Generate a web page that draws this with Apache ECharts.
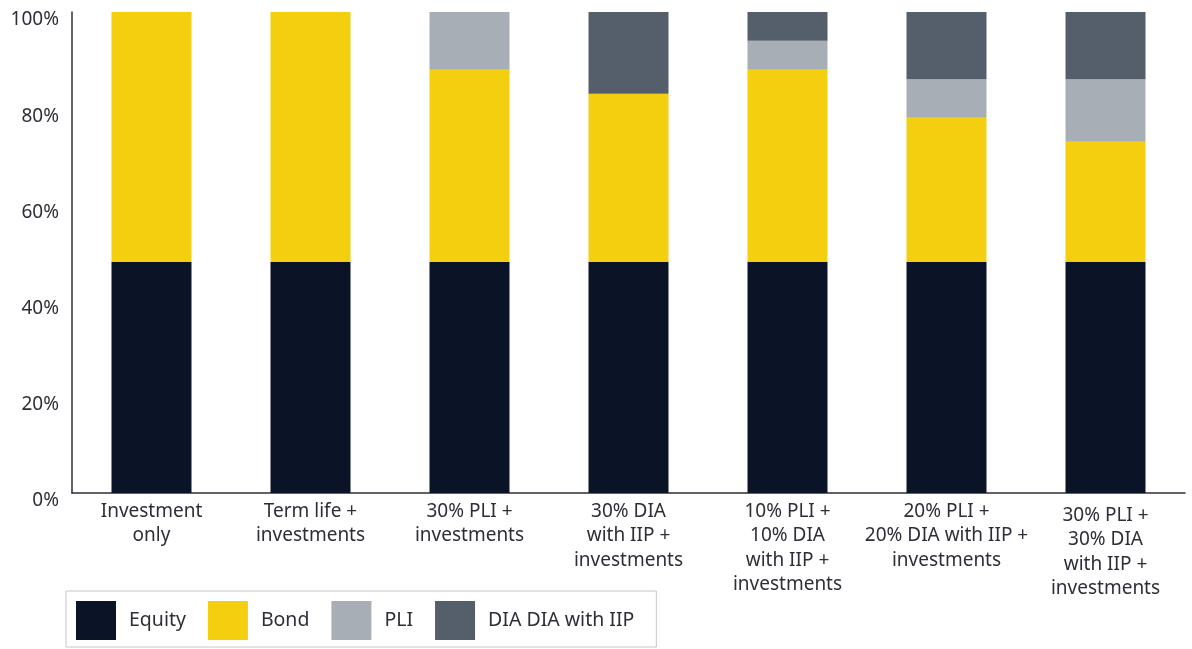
<!DOCTYPE html>
<html>
<head>
<meta charset="utf-8">
<script src="https://cdn.jsdelivr.net/npm/echarts@6/dist/echarts.min.js"></script>
<style>
  html, body { margin: 0; padding: 0; background: #ffffff; }
  #chart { width: 1192px; height: 649px; }
</style>
</head>
<body>
<div id="chart"></div>
<script>
// Portfolio allocation by strategy (% of total)
const categories = [
  'Investment\nonly',
  'Term life +\ninvestments',
  '30% PLI +\ninvestments',
  '30% DIA\nwith IIP +\ninvestments',
  '10% PLI +\n10% DIA\nwith IIP +\ninvestments',
  '20% PLI +\n20% DIA with IIP +\ninvestments',
  '30% PLI +\n30% DIA\nwith IIP +\ninvestments'
];
const equity = [48, 48, 48, 48, 48, 48, 48];
const bond   = [52, 52, 40, 35, 40, 30, 25];
const pli    = [0, 0, 12, 0, 6, 8, 13];
const dia    = [0, 0, 0, 17, 6, 14, 14];
const seriesNames = ['Equity', 'Bond', 'PLI', 'DIA DIA with IIP'];
const yTicks = [0, 20, 40, 60, 80, 100];

const colors = ['#0a1426', '#f3cf10', '#a8aeb5', '#545f6b'];
const textColor = '#2e2e38';
const font = 'Noto Sans';

const chart = echarts.init(document.getElementById('chart'));

function bar(name, data) {
  return {
    name: name,
    type: 'bar',
    stack: 'total',
    data: data,
    barWidth: 80,
    itemStyle: { borderWidth: 0 }
  };
}

chart.setOption({
  animation: false,
  color: colors,
  textStyle: { fontFamily: font },
  grid: { left: 72, right: 7, top: 12, bottom: 156, containLabel: false },
  legend: {
    left: 66,
    top: 591,
    orient: 'horizontal',
    padding: [10, 22, 7, 10],
    itemWidth: 40,
    itemHeight: 39,
    itemGap: 22,
    borderColor: '#c3c7cc',
    borderWidth: 1,
    icon: 'rect',
    data: seriesNames,
    textStyle: {
      fontFamily: font,
      fontSize: 19.5,
      color: textColor,
      padding: [6, 0, 0, 8]
    }
  },
  xAxis: {
    type: 'category',
    data: categories.map((c, i) => i === categories.length - 1
      ? { value: c, textStyle: { padding: [4, 0, 0, 0] } }
      : c),
    axisLine: { show: true, lineStyle: { color: '#2e2e38', width: 1.5 } },
    axisTick: { show: false },
    axisLabel: {
      interval: 0,
      margin: 6,
      fontFamily: font,
      fontSize: 19,
      lineHeight: 24.5,
      color: textColor
    }
  },
  yAxis: {
    type: 'value',
    min: yTicks[0],
    max: yTicks[yTicks.length - 1],
    interval: 20,
    splitLine: { show: false },
    axisTick: { show: false },
    axisLine: { show: true, lineStyle: { color: '#2e2e38', width: 1.5 } },
    axisLabel: {
      margin: 13,
      fontFamily: font,
      fontSize: 19,
      color: textColor,
      verticalAlign: 'top',
      lineHeight: 16,
      formatter: '{value}%'
    }
  },
  series: [
    bar(seriesNames[0], equity),
    bar(seriesNames[1], bond),
    bar(seriesNames[2], pli),
    bar(seriesNames[3], dia)
  ]
});
</script>
</body>
</html>
